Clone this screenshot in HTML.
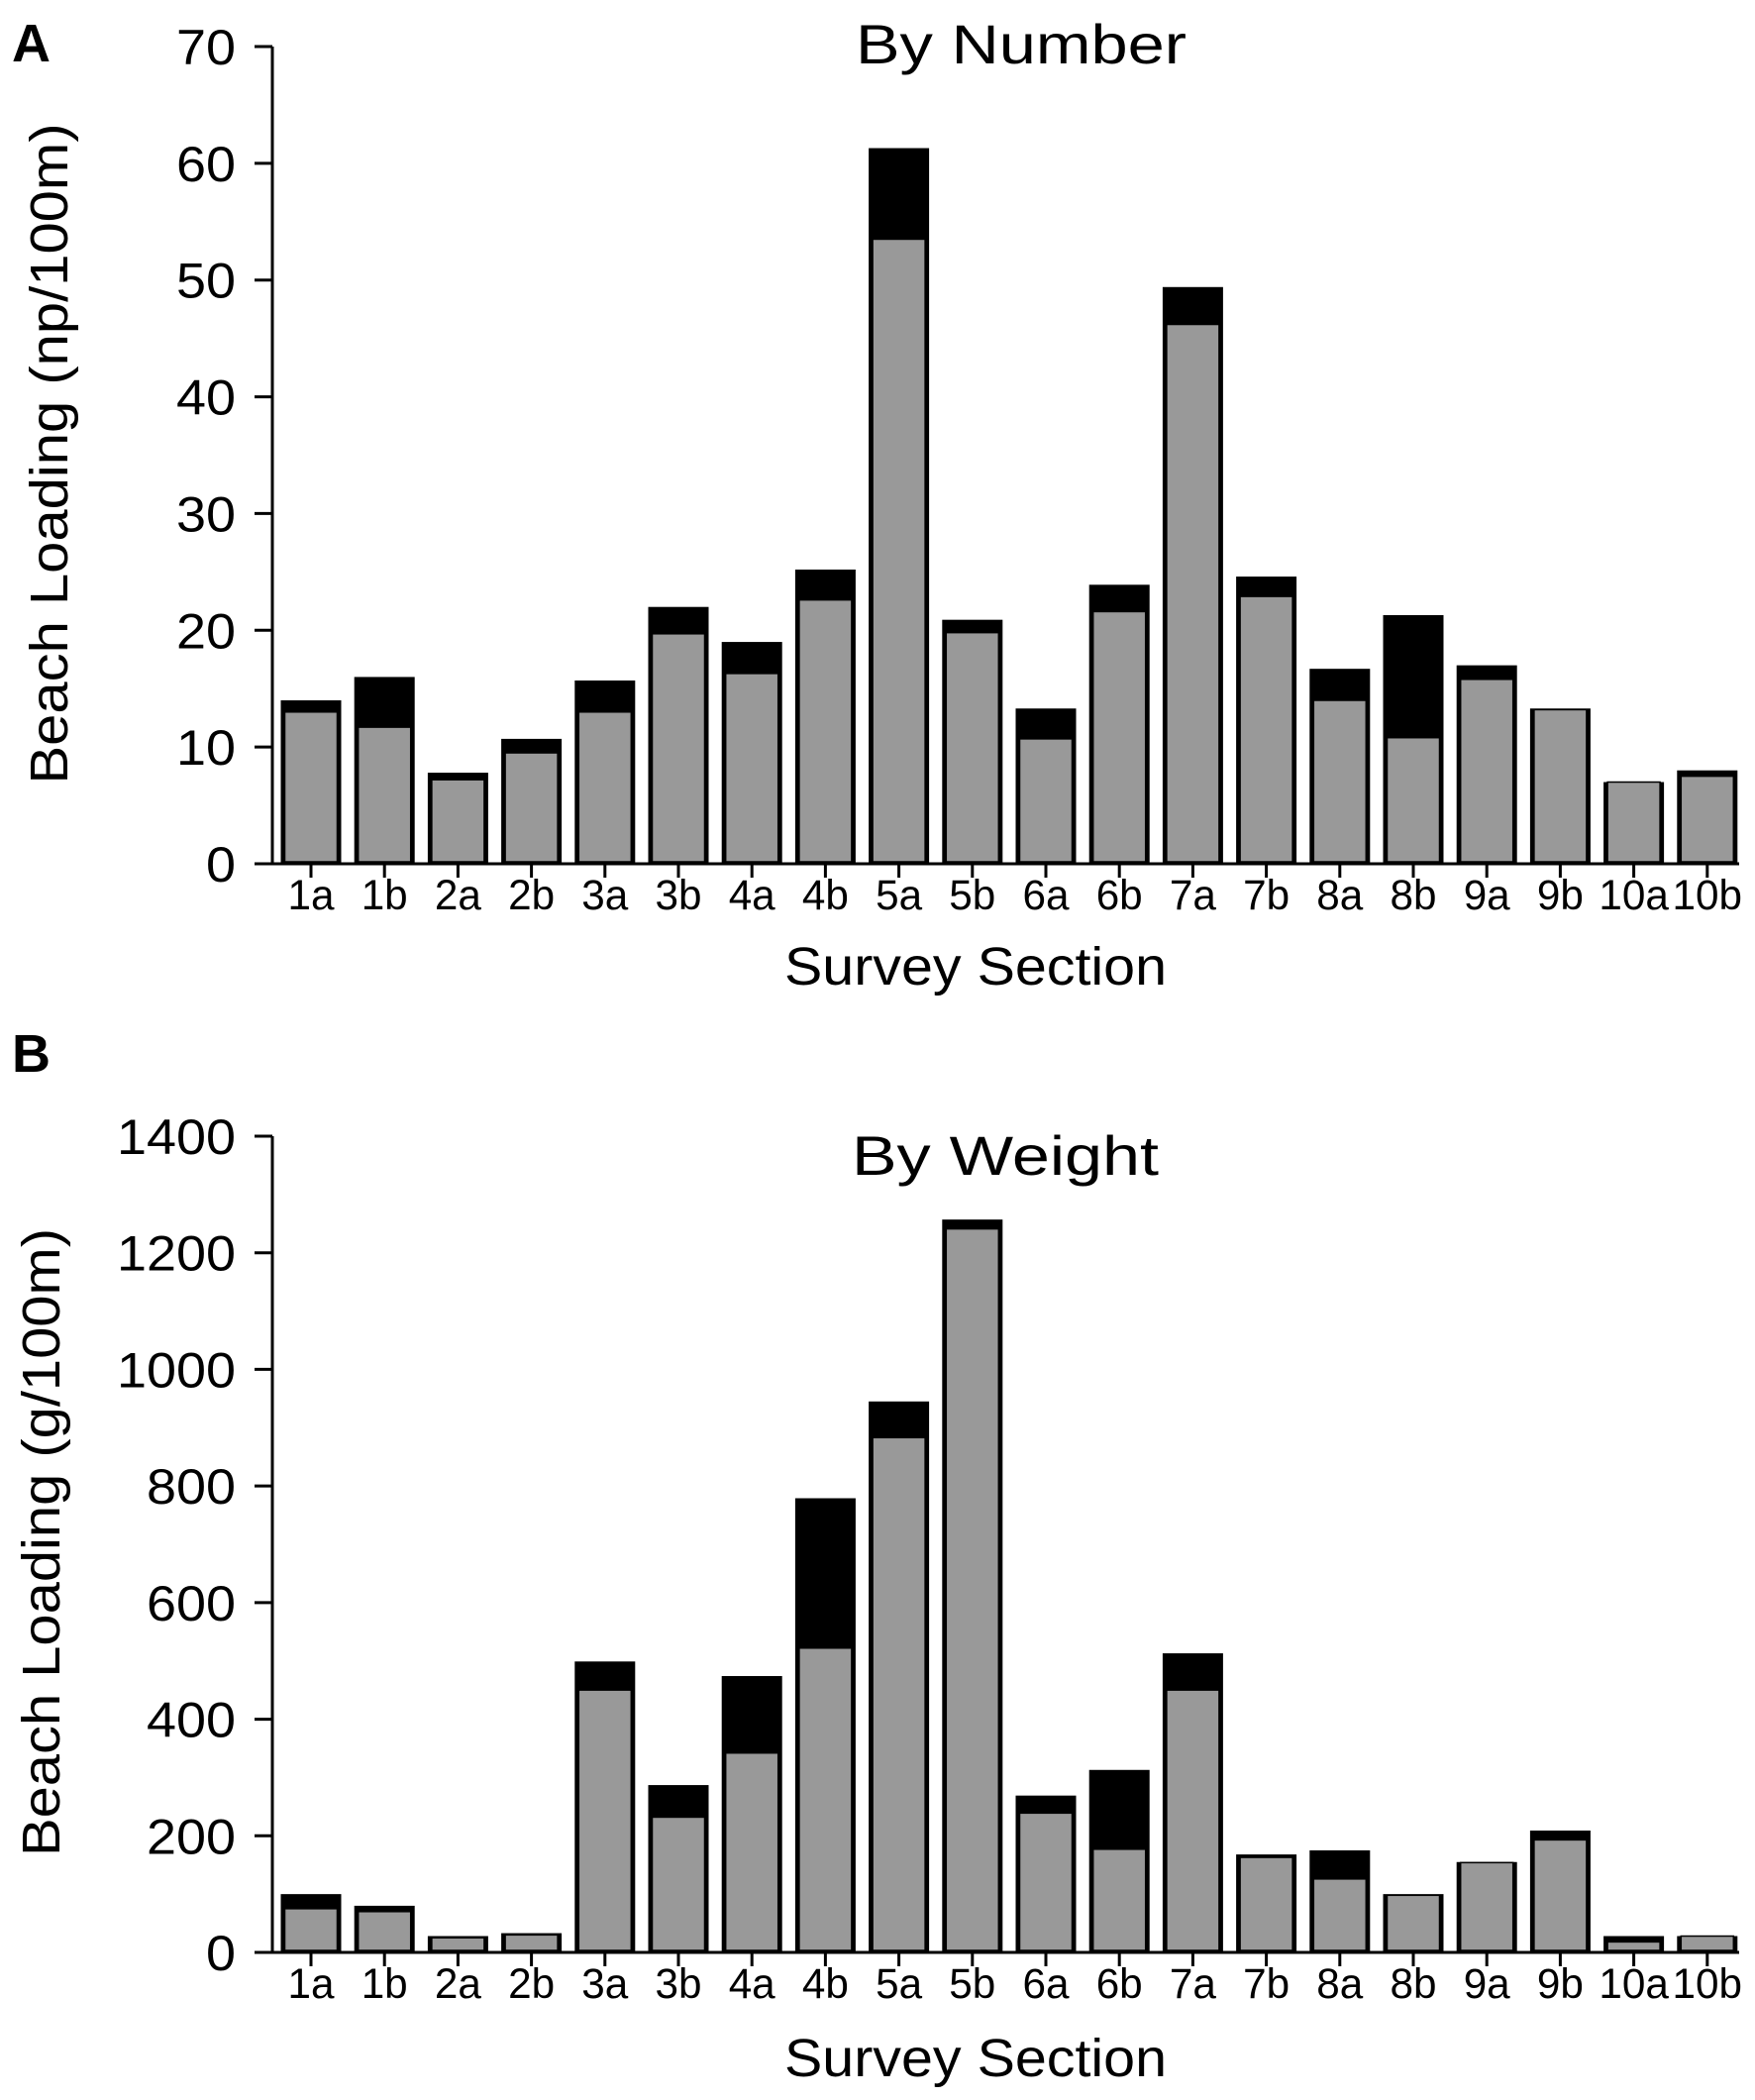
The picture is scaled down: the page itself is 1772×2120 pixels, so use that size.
<!DOCTYPE html>
<html><head><meta charset="utf-8"><style>
html,body{margin:0;padding:0;background:#fff;}
svg{display:block;font-family:"Liberation Sans",Arial,sans-serif;}
</style></head><body>
<svg id="fig" width="1772" height="2120" viewBox="0 0 1772 2120" xmlns="http://www.w3.org/2000/svg"></svg>
<script>
const categories = ["1a","1b","2a","2b","3a","3b","4a","4b","5a","5b","6a","6b","7a","7b","8a","8b","9a","9b","10a","10b"];
const numberGray  = [13,11.7,7.2,9.5,13,19.7,16.3,22.6,53.5,19.8,10.7,21.6,46.2,22.9,14,10.8,15.8,13.2,7,7.5];
const numberTotal = [14,16,7.8,10.7,15.7,22,19,25.2,61.3,20.9,13.3,23.9,49.4,24.6,16.7,21.3,17,13.3,7,8];
const weightGray  = [75,70,25,30,450,232,342,522,883,1241,239,177,450,163,126,98,154,193,18,28];
const weightTotal = [100,80,28,33,499,287,474,779,945,1257,269,313,513,168,175,100,155,209,28,28];
const numberTicks = [0,10,20,30,40,50,60,70];
const weightTicks = [0,200,400,600,800,1000,1200,1400];

const NS = "http://www.w3.org/2000/svg";
const svg = document.getElementById("fig");
function mk(tag, attrs, parent){
  const e = document.createElementNS(NS, tag);
  for (const k in attrs) e.setAttribute(k, attrs[k]);
  (parent||svg).appendChild(e);
  return e;
}
const axisX = 275, pitch = 74.2, firstC = 314, barW = 61;
function xCenter(i){ return firstC + i*pitch; }

function panel(cfg){
  const g = mk("g", {});
  
  
  const yS = v => cfg.y0 - (v/cfg.max)*(cfg.y0 - cfg.yTop);
  const L = mk("text", {x:12, y:cfg.letterY, "font-size":54, "font-weight":"bold"}, g);
  L.textContent = cfg.letter;
  
  
  const T = mk("text", {x:cfg.titleX, y:cfg.titleY, "font-size":56, "text-anchor":"middle", textLength:cfg.titleLen, lengthAdjust:"spacingAndGlyphs"}, g);
  T.textContent = cfg.title;
  
  
  categories.forEach((c,i)=>{
    const x = xCenter(i) - barW/2;
    const tot = cfg.total[i], gr = cfg.gray[i];
    const bt = mk("rect", {x:x, y:yS(tot), width:barW, height:cfg.y0-yS(tot), fill:"#000"}, g);
    
    
    const bg = mk("rect", {x:x+4, y:yS(gr), width:barW-8, height:Math.max(0,cfg.y0-yS(gr)-2), fill:"#999", stroke:"#000", "stroke-width":1.5}, g);
    
    
    mk("line", {x1:xCenter(i), x2:xCenter(i), y1:cfg.y0, y2:cfg.y0+14, stroke:"#000", "stroke-width":3}, g);
    const tl = mk("text", {x:xCenter(i), y:cfg.y0+46, "font-size":43, "text-anchor":"middle", textLength:c.length*23.5, lengthAdjust:"spacingAndGlyphs"}, g);
    tl.textContent = c;
    
    
  });
  const ya = mk("line", {x1:axisX, x2:axisX, y1:cfg.yTop, y2:cfg.y0, stroke:"#000", "stroke-width":3}, g);
  
  
  const xa = mk("line", {x1:257, x2:1756, y1:cfg.y0, y2:cfg.y0, stroke:"#000", "stroke-width":3}, g);
  
  
  cfg.ticks.forEach(t=>{
    mk("line", {x1:257, x2:axisX, y1:yS(t), y2:yS(t), stroke:"#000", "stroke-width":3}, g);
    const s = String(t);
    const yl = mk("text", {x:238, y:yS(t)+18, "font-size":50, "text-anchor":"end", textLength:s.length*30, lengthAdjust:"spacingAndGlyphs"}, g);
    yl.textContent = s;
    
    
  });
  const xt = mk("text", {x:985, y:cfg.xTitleY, "font-size":54, "text-anchor":"middle", textLength:386, lengthAdjust:"spacingAndGlyphs"}, g);
  xt.textContent = "Survey Section";
  
  
  const yt = mk("text", {x:0, y:0, "font-size":54, "text-anchor":"middle", textLength:cfg.yTitleLen, lengthAdjust:"spacingAndGlyphs", transform:`translate(${cfg.yTitleX},${cfg.yTitleC}) rotate(-90)`}, g);
  yt.textContent = cfg.yTitle;
  
  
}

panel({id:"by-number", letter:"A", letterY:62, title:"By Number", titleX:1031, titleY:64, titleLen:334,
  y0:872, yTop:47, max:70, ticks:numberTicks, gray:numberGray, total:numberTotal,
  xTitleY:994, yTitle:"Beach Loading (np/100m)", yTitleX:68, yTitleC:458, yTitleLen:667});
panel({id:"by-weight", letter:"B", letterY:1082, title:"By Weight", titleX:1015, titleY:1186, titleLen:310,
  y0:1971, yTop:1147, max:1400, ticks:weightTicks, gray:weightGray, total:weightTotal,
  xTitleY:2096, yTitle:"Beach Loading (g/100m)", yTitleX:60, yTitleC:1557, yTitleLen:634});
</script>
</body></html>
